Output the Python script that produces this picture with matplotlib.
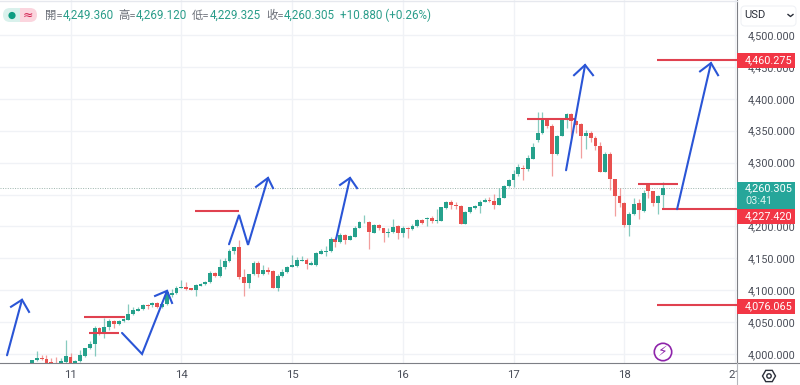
import matplotlib
matplotlib.use("Agg")
import matplotlib.pyplot as plt
from matplotlib.patches import Rectangle, FancyBboxPatch, Circle, RegularPolygon
from matplotlib.transforms import Bbox

# ---- hourly candles ----
opens = [3985, 3990, 3994, 3992, 3987, 3986, 3985, 3987, 3996, 3985, 3989, 3997, 4009, 4016, 4041, 4033, 4043, 4052, 4047, 4051,
         4054, 4062, 4068, 4070, 4077, 4077, 4080, 4073, 4078, 4093, 4095, 4104, 4105, 4103, 4100, 4107, 4109, 4113, 4127, 4122,
         4136, 4146, 4161, 4167, 4120, 4111, 4125, 4143, 4125, 4131, 4130, 4104, 4122, 4128, 4136, 4138, 4146, 4147, 4140, 4139,
         4157, 4160, 4161, 4181, 4175, 4186, 4179, 4184, 4198, 4207, 4207, 4190, 4202, 4197, 4190, 4191, 4200,
         4189, 4198, 4196, 4200, 4210, 4212, 4213, 4208, 4209, 4229, 4239, 4233, 4232, 4204, 4222, 4229, 4232, 4239, 4241, 4240,
         4234, 4245, 4263, 4272, 4282, 4292, 4290,
         4306, 4336, 4346, 4366, 4357, 4313, 4342, 4366, 4376, 4365, 4360, 4342, 4347, 4339, 4326, 4286, 4314, 4274, 4248, 4237,
         4202, 4219, 4236, 4224, 4266, 4255, 4236, 4249.36]
closes = [3990, 3994, 3992, 3985, 3986, 3985, 3989, 3997, 3985, 3989, 3998, 4009, 4016, 4041, 4032, 4043, 4052, 4047, 4052, 4055,
          4062, 4069, 4071, 4077, 4076, 4080, 4073, 4078, 4097, 4096, 4104, 4105, 4102, 4101, 4108, 4110, 4113, 4127, 4122, 4136,
          4146, 4161, 4167, 4120, 4111, 4125, 4143, 4125, 4131, 4128, 4104, 4123, 4128, 4137, 4139, 4147, 4148, 4141, 4142, 4158,
          4161, 4162, 4181, 4175, 4186, 4179, 4185, 4198, 4207, 4207, 4191, 4202, 4197, 4190, 4191, 4199, 4189,
          4198, 4196, 4201, 4210, 4206, 4213, 4208, 4210, 4230, 4239, 4233, 4232, 4204, 4222, 4230, 4232, 4239, 4242, 4240, 4234,
          4245, 4263, 4273, 4282, 4293, 4290, 4307,
          4325, 4346, 4366, 4357, 4313, 4342, 4366, 4376, 4365, 4359, 4342, 4347, 4339, 4326, 4286, 4314, 4274, 4248, 4236, 4202,
          4220, 4235, 4225, 4253, 4255, 4236, 4248, 4260.305]
highs = [3991, 4005, 3998, 3999, 3993, 3996, 3993, 4022, 4001, 3991, 4006, 4010, 4020, 4044, 4043, 4056, 4055, 4054, 4053, 4056,
         4078, 4074, 4073, 4078, 4078, 4082, 4081, 4079, 4100, 4102, 4107, 4116, 4113, 4104, 4109, 4111, 4114, 4130, 4129, 4149,
         4150, 4164, 4168, 4179, 4133, 4126, 4145, 4145, 4139, 4136, 4132, 4126, 4134, 4138, 4155, 4152, 4153, 4150, 4145, 4160,
         4165, 4170, 4183, 4184, 4189, 4188, 4187, 4200, 4208, 4218, 4209, 4204, 4204, 4198, 4197, 4211, 4202,
         4200, 4199, 4203, 4212, 4212, 4215, 4216, 4227, 4231, 4240, 4241, 4239, 4233, 4224, 4231, 4233, 4241, 4245, 4246, 4251,
         4260, 4265, 4275, 4288, 4298, 4296, 4312,
         4330, 4380, 4380, 4368, 4361, 4344, 4368, 4377, 4377, 4366, 4362, 4351, 4349, 4341, 4333, 4317, 4317, 4275, 4260, 4239,
         4223, 4244, 4243, 4257, 4268, 4256, 4250, 4269.12]
lows = [3985, 3989, 3990, 3985, 3985, 3985, 3985, 3985, 3985, 3985, 3987, 3996, 4008, 3997, 4030, 4025, 4038, 4041, 4046, 4050,
        4053, 4061, 4067, 4069, 4070, 4073, 4072, 4072, 4077, 4090, 4094, 4103, 4101, 4100, 4091, 4106, 4108, 4112, 4121, 4121,
        4134, 4144, 4157, 4118, 4091, 4103, 4124, 4120, 4124, 4126, 4103, 4098, 4121, 4127, 4136, 4137, 4145, 4134, 4139, 4138,
        4157, 4153, 4160, 4167, 4174, 4173, 4178, 4183, 4197, 4206, 4164, 4189, 4195, 4176, 4183, 4190, 4180,
        4183, 4182, 4195, 4199, 4204, 4201, 4206, 4205, 4208, 4228, 4228, 4227, 4203, 4203, 4221, 4228, 4221, 4238, 4238, 4227,
        4233, 4244, 4262, 4261, 4279, 4273, 4287,
        4305, 4333, 4345, 4354, 4279, 4312, 4341, 4355, 4340, 4347, 4307, 4321, 4333, 4320, 4285, 4285, 4257, 4216, 4230, 4199,
        4185, 4218, 4212, 4223, 4245, 4232, 4219, 4229.325]

day_ticks = [8, 31, 54, 77, 100, 123, 146]
day_labels = ["11", "14", "15", "16", "17", "18", "21"]
price_ticks = [4000, 4050, 4100, 4150, 4200, 4250, 4300, 4350, 4400, 4450, 4500]
last_price = 4260.305

# hand drawn levels: start bar, end bar, price
red_starts = [10.8, 11.8, 33.9, 102.8, 125.9, 130.8, 129.8, 129.8]
red_ends = [19.4, 18.1, 43.0, 112.8, 134.2, 147, 147, 147]
red_prices = [4058, 4033, 4224, 4368, 4266, 4227.42, 4460.275, 4076.065]

# hand drawn arrows: polyline then the two barbs of the head
arrow_bars = [[-5.19, -2.08], [18.69, 22.85, 28.04], [40.91, 42.99, 44.86, 49.01], [63.14, 66.04], [110.9, 114.85], [133.96, 141.0]]
arrow_prices = [[3998, 4085], [4033, 4000, 4099], [4172, 4218, 4171, 4276], [4180, 4276], [4288, 4453], [4227, 4456]]
barb_bars = [[-4.36, -0.62], [25.55, 29.08], [46.52, 50.05], [63.97, 67.5], [112.56, 116.5], [138.73, 142.47]]
barb_prices = [[4074, 4066], [4091, 4080], [4262, 4260], [4265, 4260], [4437, 4437], [4443, 4437]]

header_labels = ["開=", "高=", "低=", "收="]
header_values = ["4,249.360", "4,269.120", "4,229.325", "4,260.305"]

GREEN = "#26a18c"
RED = "#e8514f"
BLUE = "#2a55d6"
LEVEL = "#e0414f"
GRID = "#f0f2f6"
TXT = "#4a4e59"
FONTS = ["Roboto", "Noto Sans CJK TC", "DejaVu Sans"]
plt.rcParams["font.family"] = FONTS

fig = plt.figure(figsize=(8, 3.85), dpi=100)
ax = fig.add_axes([0, 22 / 385, 737 / 800, 363 / 385])
ax.set_xlim(-6.65, 146.4)
ax.set_ylim(4000 + (354 - 363) / 0.638, 4000 + 354 / 0.638)

ax.set_axisbelow(True)
ax.grid(True, color=GRID, lw=1)
ax.set_xticks(day_ticks)
ax.set_xticklabels([])
ax.set_yticks(price_ticks)
# 4,250 sits fully behind the green last price badge
ax.set_yticklabels(["" if p == 4250 else f"{p:,.3f}" for p in price_ticks], fontsize=7.8, color=TXT)
ax.yaxis.tick_right()
ax.tick_params(axis="both", length=0)
ax.tick_params(axis="y", pad=7.5)
for side in ["top", "left"]:
    ax.spines[side].set_visible(False)
ax.spines["right"].set_color("#7d7f85")
ax.spines["bottom"].set_color("#7d7f85")

# candles
xs = list(range(len(opens)))
colors = [GREEN if c >= o else RED for o, c in zip(opens, closes)]
ax.vlines(xs, lows, highs, colors=colors, lw=0.9, alpha=0.55, zorder=2)
ax.bar(xs, [abs(c - o) for o, c in zip(opens, closes)], bottom=[min(o, c) for o, c in zip(opens, closes)],
       width=0.8, color=colors, zorder=3)

ax.axhline(last_price, color="#9db5ad", lw=0.7, ls=(0, (1, 1.5)), zorder=1)

# drawings
ax.hlines(red_prices, red_starts, red_ends, colors=LEVEL, lw=1.5, zorder=4)
for bx, by, hx, hy in zip(arrow_bars, arrow_prices, barb_bars, barb_prices):
    ax.plot(bx, by, color=BLUE, lw=1.5, zorder=5, solid_capstyle="round", solid_joinstyle="miter")
    ax.plot([hx[0], bx[-1], hx[1]], [hy[0], by[-1], hy[1]], color=BLUE, lw=1.5, zorder=5, solid_joinstyle="miter")

# chrome on top, in figure pixels
ui = fig.add_axes([0, 0, 1, 1], zorder=10)
ui.set_xlim(0, 800)
ui.set_ylim(385, 0)
ui.axis("off")

ui.plot([0, 737], [0.5, 0.5], color="#e6e8ee", lw=1)
ui.plot([737, 800], [363, 363], color="#7d7f85", lw=0.8)
ui.plot([737, 737], [363, 385], color="#b5b7bc", lw=0.8)

# status pills
ui.add_patch(FancyBboxPatch((7, 8), 30, 14, boxstyle="round,pad=0,rounding_size=7", fc="#fbd5de", ec="none"))
ui.add_patch(FancyBboxPatch((3, 8), 17, 14, boxstyle="round,pad=0,rounding_size=7", fc="#d9f1ec", ec="none"))
ui.add_patch(Rectangle((14, 8), 6, 14, fc="#d9f1ec", ec="none"))
ui.add_patch(Circle((12, 15.5), 3.6, fc="#0f9d82", ec="none"))
ui.text(28, 15, "≈", color="#d2204f", fontsize=9, ha="center", va="center", family="DejaVu Sans")

for lab, lx in zip(header_labels, [45, 118, 192, 266]):
    ui.text(lx, 15.5, lab, color="#6b6f78", fontsize=8.2, va="center")
for val, vx in zip(header_values, [63, 136, 210, 284]):
    ui.text(vx, 15.5, val, color="#2a9d8a", fontsize=8.4, va="center")
ui.text(340, 15.5, "+10.880 (+0.26%)", color="#2a9d8a", fontsize=8.4, va="center")

# x labels, last one runs under the price scale
for t, lab in zip(day_ticks, day_labels):
    px = 32 + 4.815 * t
    txt = ui.text(px, 375, lab, color=TXT, fontsize=8.2, ha="center", va="center")
    if lab == "21":
        txt.set_clip_box(Bbox([[0, 0], [737, 385]]))
        txt.set_clip_on(True)

# price badges
ui.add_patch(Rectangle((737, 53), 58, 15, fc="#f23645", ec="none"))
ui.text(745, 60.5, "4,460.275", color="white", fontsize=7.8, va="center")
ui.add_patch(Rectangle((737, 182), 58, 27, fc="#26a69a", ec="none"))
ui.text(745, 188.5, "4,260.305", color="white", fontsize=7.8, va="center")
ui.text(745, 200.5, "03:41", color="#d8f3ee", fontsize=7.8, va="center")
ui.add_patch(Rectangle((737, 209), 58, 15, fc="#f23645", ec="none"))
ui.text(745, 216.5, "4,227.420", color="white", fontsize=7.8, va="center")
ui.add_patch(Rectangle((737, 299), 58, 15, fc="#f23645", ec="none"))
ui.text(745, 306.5, "4,076.065", color="white", fontsize=7.8, va="center")

# currency button
ui.add_patch(FancyBboxPatch((741, 6), 55, 20, boxstyle="round,pad=0,rounding_size=4", fc="white", ec="#f0f2f6", lw=0.8))
ui.text(744, 15.5, "USD", color="#2a2e39", fontsize=8, va="center")
ui.plot([788, 790.5, 793], [14.5, 16.5, 14.5], color="#2a2e39", lw=1)

# lightning badge + settings icon
ui.add_patch(Circle((663, 352), 8.7, fc="white", ec="#8e24aa", lw=1.2))
ui.text(663, 352, "⚡", color="#8e24aa", fontsize=10, ha="center", va="center", family="DejaVu Sans")
ui.add_patch(RegularPolygon((769, 376), 6, radius=6.5, orientation=0.5236, fc="white", ec="#2a2e39", lw=1))
ui.add_patch(Circle((769, 376), 2.2, fc="white", ec="#2a2e39", lw=1))

fig.savefig("out.png", dpi=100)
